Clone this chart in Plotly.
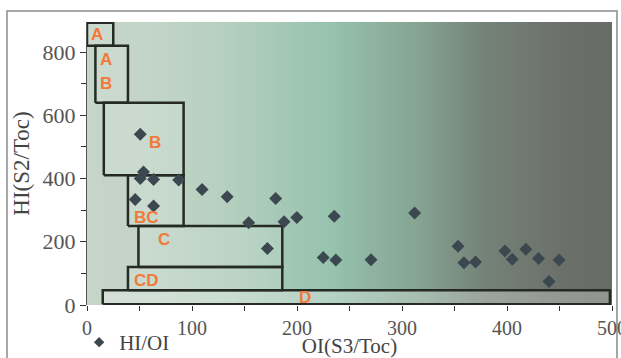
import numpy as np
import plotly.graph_objects as go

# ---- data ----
oi = [50.7, 53.8, 50.7, 63.4, 87.3, 45.9, 63.4, 109.6, 133.5, 179.7, 154, 187.7, 199.8,
      171.8, 225, 235.5, 312, 237, 270.5, 353.4, 359, 370, 398, 405, 418, 430, 449.6, 440]
hi = [540, 421, 400, 397, 395, 334, 313, 365, 342, 337, 260, 263, 277,
      179, 150, 281, 291, 142, 143, 186, 134, 136, 171, 145, 176, 147, 142, 74]

zone_names = ["A", "AB", "B", "BC", "C", "CD", "D"]
zone_x0 = [0, 8, 16, 39, 49, 39, 15]
zone_x1 = [25, 39, 92, 92, 186, 186, 498]
zone_y0 = [820, 640, 410, 250, 120, 47, 2]
zone_y1 = [893, 820, 640, 410, 250, 120, 47]

label_text = ["A", "A", "B", "B", "BC", "C", "CD", "D"]
label_x = [9.5, 18, 18, 65, 57, 73, 57, 208]
label_y = [854, 775, 702, 515, 278, 206, 79, 25]

x_ticks = [0, 100, 200, 300, 400, 500]
y_ticks = [0, 200, 400, 600, 800]

# background gradient stops (OI value, colour)
grad_stops = [0, 57, 137, 232, 312, 376, 455, 500]
grad_cols = ["#c5d5c8", "#c3d5c8", "#b4cfbe", "#96c2ae", "#86a593", "#758379", "#6b6f69", "#686b66"]

fig = go.Figure()

gx = np.arange(-10, 511, 5)
fig.add_trace(go.Heatmap(
    x=gx, y=[-10, 900], z=[gx, gx], zmin=0, zmax=500,
    colorscale=[[s / 500, c] for s, c in zip(grad_stops, grad_cols)],
    showscale=False, zsmooth="best", hoverinfo="skip", showlegend=False))

for i, n in enumerate(zone_names):
    x0, x1, y0, y1 = zone_x0[i], zone_x1[i], zone_y0[i], zone_y1[i]
    fig.add_trace(go.Scatter(
        x=[x0, x1, x1, x0, x0], y=[y0, y0, y1, y1, y0], mode="lines",
        fill="toself",
        fillcolor="rgba(255,255,255,0.28)" if n == "D" else "rgba(255,255,255,0.12)",
        line=dict(color="#252a25", width=2.5), showlegend=False, hoverinfo="skip"))

fig.add_trace(go.Scatter(
    x=oi, y=hi, mode="markers", name="HI/OI",
    marker=dict(symbol="diamond", size=10, color="#3b4850"),
    showlegend=False))
# legend entry (smaller symbol like the reference key)
fig.add_trace(go.Scatter(
    x=[None], y=[None], mode="markers", name="HI/OI",
    marker=dict(symbol="diamond", size=8, color="#3b4850"), showlegend=True))

for t, x, y in zip(label_text, label_x, label_y):
    fig.add_annotation(x=x, y=y, text="<b>%s</b>" % t, showarrow=False,
                       font=dict(family="Liberation Sans", size=17, color="#f07a3c"))

serif = "Liberation Serif"
fig.update_layout(
    width=621, height=358,
    margin=dict(l=87, r=9, t=22, b=53, autoexpand=False),
    paper_bgcolor="white", plot_bgcolor="white",
    font=dict(family=serif, color="#555555"),
    showlegend=True,
    legend=dict(x=-0.015, y=-0.06, xanchor="left", yanchor="top",
                font=dict(family=serif, size=21, color="#444444"),
                bgcolor="rgba(0,0,0,0)", itemwidth=30),
    xaxis=dict(range=[0, 500], tickvals=x_ticks, ticks="outside", ticklen=5,
               tickcolor="#333", tickfont=dict(family=serif, size=20, color="#555"),
               ticklabeloverflow="allow", automargin=False,
               showgrid=False, zeroline=False, showline=False,
               minor=dict(dtick=50, ticks="outside", ticklen=5, tickcolor="#333"),
               title=dict(text="OI(S3/Toc)", font=dict(family=serif, size=21, color="#444"), standoff=26)),
    yaxis=dict(range=[0, 895], tickvals=y_ticks, ticks="outside", ticklen=6,
               tickcolor="#333", tickfont=dict(family=serif, size=22, color="#555"),
               automargin=False,
               showgrid=False, zeroline=False, showline=True, linecolor="#555", linewidth=1,
               minor=dict(dtick=100, ticks="outside", ticklen=5, tickcolor="#333"),
               title=dict(text="HI(S2/Toc)", font=dict(family=serif, size=23, color="#444"), standoff=6)),
)

fig.add_shape(type="rect", xref="paper", yref="paper",
              x0=-0.1524, x1=1.0095, y0=-0.25, y1=1.0389,
              line=dict(color="#8a8a8a", width=1.5), fillcolor="rgba(0,0,0,0)", layer="below")

fig.write_html("out.html")
